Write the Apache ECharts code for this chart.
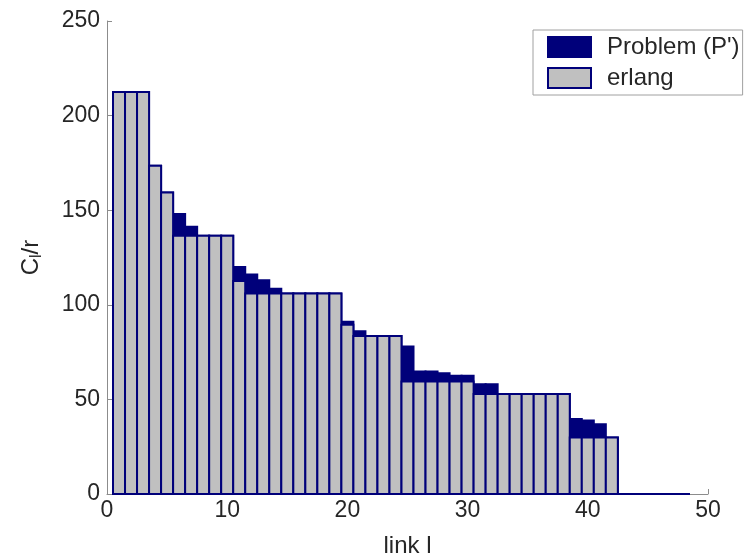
<!DOCTYPE html>
<html>
<head>
<meta charset="utf-8">
<script src="https://cdn.jsdelivr.net/npm/echarts@6/dist/echarts.min.js"></script>
<style>html,body{margin:0;padding:0;background:#fff;}#c{width:747px;height:557px;}</style>
</head>
<body>
<div id="c"></div>
<script>
// link indices 1..48
var links = [];
for (var i = 1; i <= 48; i++) links.push(i);

var problemValues = [
  212.5, 212.5, 212.5, 173.5, 159.3, 148, 141.3, 136.5, 136.5, 136.5,
  120, 116, 113, 108.5, 106, 106, 106, 106, 106, 91,
  86, 83.5, 83.5, 83.5, 78, 64.7, 64.7, 63.8, 62.5, 62.5,
  58, 58, 52.8, 52.8, 52.8, 52.8, 52.8, 52.8, 39.6, 38.8,
  36.8, 29.8, 0, 0, 0, 0, 0, 0
];
var erlangValues = [
  212.5, 212.5, 212.5, 173.5, 159.3, 136.5, 136.5, 136.5, 136.5, 136.5,
  112.6, 106, 106, 106, 106, 106, 106, 106, 106, 89.5,
  83.5, 83.5, 83.5, 83.5, 59.4, 59.4, 59.4, 59.4, 59.4, 59.4,
  52.8, 52.8, 52.8, 52.8, 52.8, 52.8, 52.8, 52.8, 29.8, 29.8,
  29.8, 29.8, 0, 0, 0, 0, 0, 0
];
var xTicks = [0, 10, 20, 30, 40, 50];
var yTicks = [0, 50, 100, 150, 200, 250];
var seriesNames = ["Problem (P')", "erlang"];

var NAVY = '#00007a';
var GREY = '#c0c0c0';
var FONT = 'Liberation Sans, Arial, sans-serif';
var TXT = '#262626';

function makeData(vals) {
  return links.map(function (l, k) { return [l, vals[k]]; });
}

function barRenderer(fill, stroke, lw) {
  return function (params, api) {
    var x = api.value(0), y = api.value(1);
    var p1 = api.coord([x - 0.5, y]);
    var p2 = api.coord([x + 0.5, 0]);
    return {
      type: 'rect',
      shape: { x: p1[0], y: p1[1], width: p2[0] - p1[0], height: p2[1] - p1[1] },
      style: { fill: fill, stroke: stroke, lineWidth: lw }
    };
  };
}

var chart = echarts.init(document.getElementById('c'), null, { renderer: 'canvas' });
chart.setOption({
  animation: false,
  backgroundColor: '#ffffff',
  textStyle: { fontFamily: FONT },
  grid: { left: 107, right: 39, top: 21, bottom: 63, containLabel: false, outerBoundsMode: 'none' },
  xAxis: {
    type: 'value', min: xTicks[0], max: xTicks[xTicks.length - 1], interval: 10,
    name: 'link l', nameLocation: 'middle', nameGap: 40,
    nameTextStyle: { fontSize: 24, color: TXT, fontFamily: FONT },
    axisLine: { show: true, lineStyle: { color: '#8c8c8c', width: 1 } },
    axisTick: { show: true, inside: true, length: 5, lineStyle: { color: '#8c8c8c' } },
    axisLabel: { fontSize: 23, color: TXT, margin: 5, fontFamily: FONT },
    splitLine: { show: false }
  },
  yAxis: {
    type: 'value', min: yTicks[0], max: yTicks[yTicks.length - 1], interval: 50,
    name: '{a|C}{s|l}{a|/r}', nameLocation: 'middle', nameGap: 62, nameRotate: 90,
    nameTextStyle: {
      color: TXT, fontFamily: FONT,
      rich: {
        a: { fontSize: 24, color: TXT, fontFamily: FONT },
        s: { fontSize: 16, color: TXT, fontFamily: FONT, padding: [12, 0, 0, 0] }
      }
    },
    axisLine: { show: true, lineStyle: { color: '#8c8c8c', width: 1 } },
    axisTick: { show: true, inside: true, length: 5, lineStyle: { color: '#8c8c8c' } },
    axisLabel: { fontSize: 23, color: TXT, margin: 7, fontFamily: FONT },
    splitLine: { show: false }
  },
  legend: {
    orient: 'vertical', left: 533, top: 30,
    padding: [5, 3, 5, 14],
    itemWidth: 43, itemHeight: 20, itemGap: 7,
    borderColor: '#a0a0a0', borderWidth: 1, backgroundColor: '#ffffff',
    icon: 'rect',
    textStyle: { fontSize: 24, lineHeight: 20, color: TXT, fontFamily: FONT, padding: [0, 0, 0, 11] },
    data: [
      { name: seriesNames[0], itemStyle: { color: NAVY, borderColor: NAVY, borderWidth: 2 } },
      { name: seriesNames[1], itemStyle: { color: GREY, borderColor: NAVY, borderWidth: 2 } }
    ]
  },
  series: [
    {
      name: seriesNames[0], type: 'custom', data: makeData(problemValues),
      itemStyle: { color: NAVY },
      renderItem: barRenderer(NAVY, NAVY, 2), z: 2
    },
    {
      name: seriesNames[1], type: 'custom', data: makeData(erlangValues),
      itemStyle: { color: GREY, borderColor: NAVY },
      renderItem: barRenderer(GREY, NAVY, 2), z: 3
    }
  ]
});
</script>
</body>
</html>
